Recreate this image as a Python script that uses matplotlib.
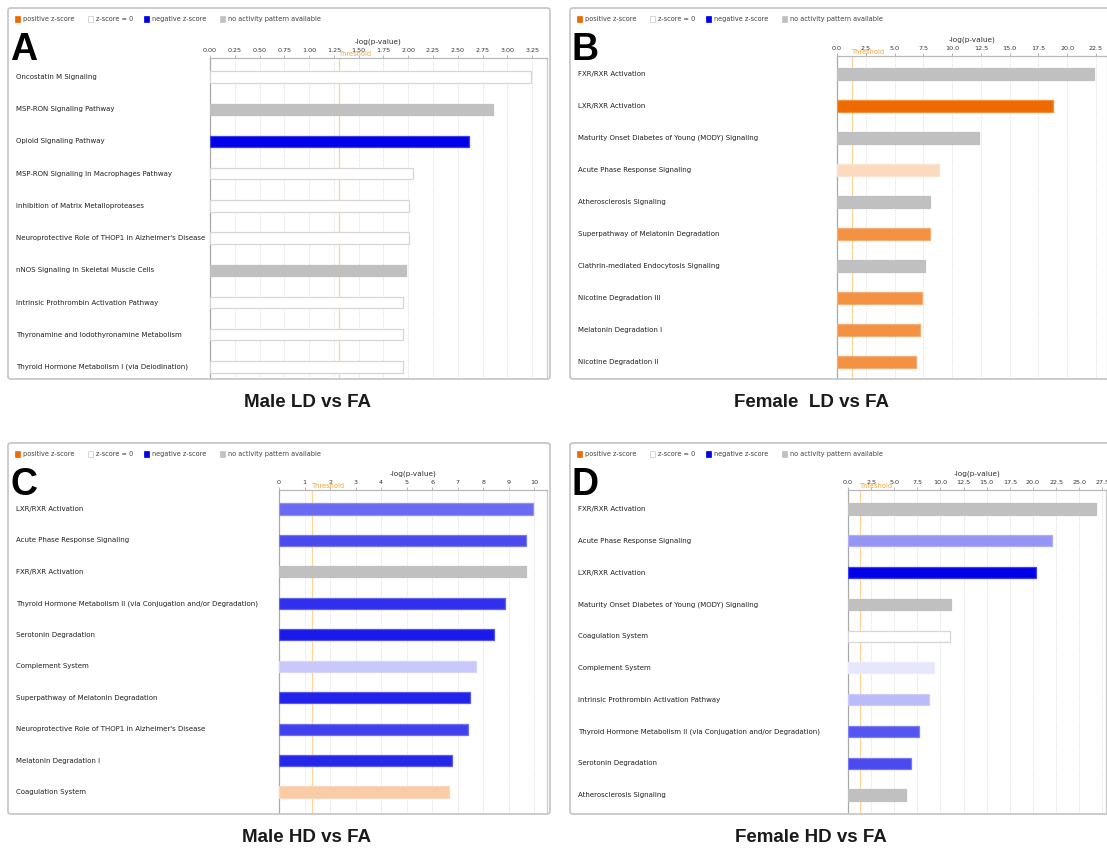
import numpy as np
import matplotlib
matplotlib.use("Agg")
import matplotlib.pyplot as plt
from matplotlib.patches import Rectangle, FancyBboxPatch
from matplotlib.transforms import blended_transform_factory

# ---- data: -log(p-value) and activation z-score per canonical pathway ----
# z-score: None = no activity pattern available, 0 = z-score of zero
male_ld_pathways = [
    "Oncostatin M Signaling",
    "MSP-RON Signaling Pathway",
    "Opioid Signaling Pathway",
    "MSP-RON Signaling In Macrophages Pathway",
    "Inhibition of Matrix Metalloproteases",
    "Neuroprotective Role of THOP1 in Alzheimer's Disease",
    "nNOS Signaling in Skeletal Muscle Cells",
    "Intrinsic Prothrombin Activation Pathway",
    "Thyronamine and Iodothyronamine Metabolism",
    "Thyroid Hormone Metabolism I (via Deiodination)",
]
male_ld_logp = [3.24, 2.86, 2.61, 2.05, 2.01, 2.01, 1.98, 1.95, 1.95, 1.95]
male_ld_z = [0, None, -3.0, 0, 0, 0, None, 0, 0, 0]

female_ld_pathways = [
    "FXR/RXR Activation",
    "LXR/RXR Activation",
    "Maturity Onset Diabetes of Young (MODY) Signaling",
    "Acute Phase Response Signaling",
    "Atherosclerosis Signaling",
    "Superpathway of Melatonin Degradation",
    "Clathrin-mediated Endocytosis Signaling",
    "Nicotine Degradation III",
    "Melatonin Degradation I",
    "Nicotine Degradation II",
]
female_ld_logp = [22.3, 18.8, 12.3, 8.9, 8.1, 8.1, 7.65, 7.4, 7.2, 6.85]
female_ld_z = [None, 3.0, None, 0.75, None, 2.2, None, 2.2, 2.2, 2.2]

male_hd_pathways = [
    "LXR/RXR Activation",
    "Acute Phase Response Signaling",
    "FXR/RXR Activation",
    "Thyroid Hormone Metabolism II (via Conjugation and/or Degradation)",
    "Serotonin Degradation",
    "Complement System",
    "Superpathway of Melatonin Degradation",
    "Neuroprotective Role of THOP1 in Alzheimer's Disease",
    "Melatonin Degradation I",
    "Coagulation System",
]
male_hd_logp = [9.95, 9.69, 9.66, 8.85, 8.41, 7.70, 7.48, 7.42, 6.78, 6.68]
male_hd_z = [-1.75, -2.13, None, -2.45, -2.7, -0.65, -2.6, -2.25, -2.55, 1.05]

female_hd_pathways = [
    "FXR/RXR Activation",
    "Acute Phase Response Signaling",
    "LXR/RXR Activation",
    "Maturity Onset Diabetes of Young (MODY) Signaling",
    "Coagulation System",
    "Complement System",
    "Intrinsic Prothrombin Activation Pathway",
    "Thyroid Hormone Metabolism II (via Conjugation and/or Degradation)",
    "Serotonin Degradation",
    "Atherosclerosis Signaling",
]
female_hd_logp = [26.8, 22.1, 20.3, 11.1, 11.0, 9.25, 8.75, 7.73, 6.8, 6.26]
female_hd_z = [None, -1.25, -3.0, None, 0, -0.3, -0.8, -2.0, -2.13, None]

THRESHOLD = 1.3  # -log(0.05)

legend_labels = ["positive z-score", "z-score = 0", "negative z-score",
                 "no activity pattern available"]

# ---- styling ----
W, H = 1107, 849
ORANGE = np.array([238, 106, 0]) / 255
BLUE = np.array([0, 0, 232]) / 255
GREY = np.array([192, 192, 192]) / 255
Z_FULL = 3.0
LABEL_FONT = "DejaVu Sans"
TITLE_FONT = "Liberation Sans"


def px_box(l, t, r, b):
    return [l / W, 1 - b / H, (r - l) / W, (b - t) / H]


def z_fill(z):
    if z is None:
        return GREY
    if z == 0:
        return np.array([1.0, 1.0, 1.0])
    base = ORANGE if z > 0 else BLUE
    f = min(abs(z) / Z_FULL, 1.0)
    return 1 - f * (1 - base)


def z_edge(z):
    if z is None:
        return GREY
    if z == 0:
        return np.array([0.84, 0.84, 0.84])
    return 1 - 0.75 * (1 - z_fill(z))


def draw_panel(fig, letter, subtitle, names, logp, zs, frame, plot, rows,
               ticks, fmt, xmax, label_x, caption_x):
    fl, ft, fr, fb = frame
    pl, pt, pr, pb = plot
    y0, y9 = rows

    # rounded panel frame
    frame_patch = FancyBboxPatch(
        (fl / W, 1 - fb / H), (fr - fl) / W, (fb - ft) / H,
        boxstyle="round,pad=0,rounding_size=0.003",
        transform=fig.transFigure, fc="none", ec="#c8c8c8", lw=1.3, zorder=0)
    fig.patches.append(frame_patch)

    # z-score legend row
    leg_y = ft + 11
    offsets = [0, 73, 129, 205]
    fills = [ORANGE, np.ones(3), BLUE, GREY]
    edges = [ORANGE, "#c8c8c8", BLUE, GREY]
    for off, fc, ec, txt in zip(offsets, fills, edges, legend_labels):
        x = fl + 7 + off
        fig.patches.append(Rectangle((x / W, 1 - (leg_y + 3) / H), 5 / W, 6 / H,
                                     transform=fig.transFigure, fc=fc, ec=ec, lw=0.5))
        fig.text((x + 8) / W, 1 - leg_y / H, txt, fontsize=4.7, color="#404040",
                 va="center", ha="left", family=LABEL_FONT)

    # panel letter
    fig.text((fl + 2) / W, 1 - (ft + 52) / H, letter, fontsize=27, fontweight="bold",
             family=TITLE_FONT, va="baseline", ha="left")

    ax = fig.add_axes(px_box(pl, pt, pr, pb))
    ax.set_facecolor("white")
    n = len(names)
    s = (y9 - y0) / (n - 1)
    ax.set_ylim(n - 1 + (pb - y9) / s, -(y0 - pt) / s)
    ax.set_xlim(0, xmax)

    ypos = np.arange(n)
    ax.barh(ypos, logp, height=0.35, color=[z_fill(z) for z in zs],
            edgecolor=[z_edge(z) for z in zs], linewidth=0.9, zorder=3)

    ax.set_xticks(ticks)
    ax.set_xticklabels([fmt.format(t) for t in ticks])
    ax.xaxis.tick_top()
    ax.xaxis.set_label_position("top")
    ax.set_xlabel("-log(p-value)", fontsize=5.3, labelpad=3, color="#303030",
                  family=LABEL_FONT)
    ax.tick_params(axis="x", labelsize=4.6, length=2, width=0.5, colors="#999999",
                   labelcolor="#333333", pad=1.5)
    for lab in ax.get_xticklabels():
        lab.set_family(LABEL_FONT)
    ax.set_yticks([])
    ax.grid(axis="x", ls=(0, (1, 1.5)), color="#d4d4d4", lw=0.6, zorder=0)
    ax.set_axisbelow(True)
    ax.spines["left"].set_color("#a8a8a8")
    ax.spines["top"].set_color("#b8b8b8")
    ax.spines["right"].set_color("#cccccc")
    ax.spines["bottom"].set_visible(False)
    for sp in ax.spines.values():
        sp.set_linewidth(0.9)

    # significance threshold
    ax.axvline(THRESHOLD, color="#ffd494", lw=0.9, zorder=2)
    ax.text(THRESHOLD, 1 + 4 / (pb - pt), "Threshold", transform=ax.get_xaxis_transform(),
            color="#f5a53a", fontsize=4.8, va="center", ha="left", family=LABEL_FONT,
            clip_on=False)

    # pathway names on the left
    trans = blended_transform_factory(fig.transFigure, ax.transData)
    for y, name in zip(ypos, names):
        ax.text(label_x / W, y, name, transform=trans, fontsize=5.0, va="center",
                ha="left", color="#202020", family=LABEL_FONT, clip_on=False)

    # comparison caption below the panel
    fig.text(caption_x / W, 1 - (fb + 23) / H, subtitle,
             fontsize=13.5, fontweight="bold", family=TITLE_FONT,
             ha="center", va="center", color="#1a1a1a")
    return ax


fig = plt.figure(figsize=(W / 100, H / 100), dpi=100)
fig.patch.set_facecolor("white")

draw_panel(fig, "A", "Male LD vs FA", male_ld_pathways, male_ld_logp, male_ld_z,
           frame=(8, 8, 550, 379), plot=(210, 58, 547, 379), rows=(77, 367),
           ticks=np.arange(0, 3.26, 0.25), fmt="{:.2f}", xmax=3.40, label_x=16,
           caption_x=308)
draw_panel(fig, "B", "Female  LD vs FA", female_ld_pathways, female_ld_logp, female_ld_z,
           frame=(570, 8, 1112, 379), plot=(837, 56, 1107, 379), rows=(74, 362),
           ticks=np.arange(0, 22.6, 2.5), fmt="{:.1f}", xmax=23.46, label_x=578,
           caption_x=812)
draw_panel(fig, "C", "Male HD vs FA", male_hd_pathways, male_hd_logp, male_hd_z,
           frame=(8, 443, 550, 814), plot=(279, 490, 547, 813), rows=(509, 792),
           ticks=np.arange(0, 11, 1), fmt="{:.0f}", xmax=10.5, label_x=16,
           caption_x=307)
draw_panel(fig, "D", "Female HD vs FA", female_hd_pathways, female_hd_logp, female_hd_z,
           frame=(570, 443, 1112, 814), plot=(848, 490, 1106, 813), rows=(509, 795),
           ticks=np.arange(0, 27.6, 2.5), fmt="{:.1f}", xmax=27.9, label_x=578,
           caption_x=811)

fig.savefig("out.png", dpi=100, facecolor="white")
